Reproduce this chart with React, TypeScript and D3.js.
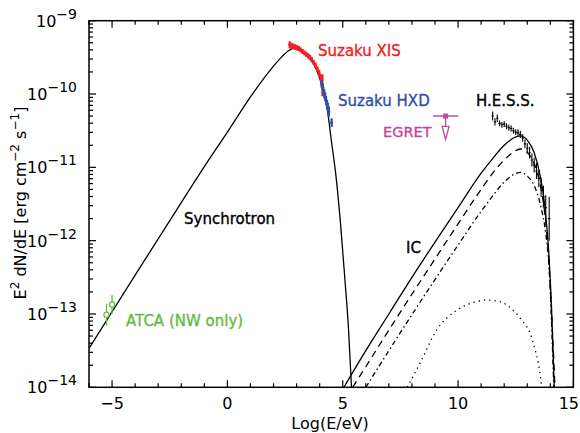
import * as d3 from 'd3';

// x: log10(E/eV), y: log10(E^2 dN/dE  [erg cm^-2 s^-1])
const xTickValues = [-5, 0, 5, 10, 15];
const yDecades = [-14, -13, -12, -11, -10, -9];

const syncX = [-6, -4, -2, -1, 0, 1, 1.5, 2, 2.4, 2.7, 2.9, 3.1, 3.4, 3.7, 4.0, 4.2, 4.35, 4.5, 4.7, 4.9, 5.1, 5.25, 5.38];
const syncY = [-13.47, -12.47, -11.48, -10.99, -10.52, -10.04, -9.82, -9.62, -9.48, -9.4, -9.375, -9.39, -9.46, -9.57, -9.78, -10.0, -10.25, -10.62, -11.1, -11.75, -12.55, -13.2, -14.0];

const icTotalX = [5.05, 6, 7, 8, 9, 10, 11, 11.5, 12.0, 12.4, 12.7, 13.0, 13.3, 13.55, 13.75, 13.92, 14.05, 14.17];
const icTotalY = [-14.0, -13.5, -13.0, -12.5, -12.02, -11.55, -11.08, -10.88, -10.7, -10.6, -10.57, -10.63, -10.8, -11.1, -11.5, -12.1, -12.9, -14.0];

const icDashX = [5.43, 6, 7, 8, 9, 10, 11, 11.5, 12.0, 12.4, 12.7, 13.0, 13.3, 13.55, 13.75, 13.9, 14.05, 14.2];
const icDashY = [-14.0, -13.72, -13.22, -12.73, -12.25, -11.77, -11.3, -11.08, -10.9, -10.79, -10.75, -10.8, -10.95, -11.22, -11.6, -12.1, -12.95, -14.0];

const icDashDotX = [6.0, 7, 8, 9, 10, 11, 11.5, 12.0, 12.4, 12.7, 13.0, 13.3, 13.6, 13.8, 13.95, 14.05, 14.15];
const icDashDotY = [-14.0, -13.5, -13.01, -12.53, -12.06, -11.6, -11.39, -11.2, -11.1, -11.07, -11.12, -11.25, -11.55, -11.9, -12.4, -13.1, -14.0];

const icDotX = [7.8, 8.35, 9.07, 9.94, 10.6, 11.24, 11.8, 12.39, 12.8, 13.12, 13.35, 13.48, 13.63];
const icDotY = [-14.0, -13.67, -13.22, -12.95, -12.85, -12.81, -12.83, -12.95, -13.1, -13.26, -13.5, -13.67, -14.0];

const xisX = [2.7, 2.78, 2.86, 2.94, 3.02, 3.1, 3.18, 3.26, 3.34, 3.42, 3.5, 3.58, 3.66, 3.74, 3.82, 3.9, 3.98, 4.06, 4.12];
const xisY = [-9.33, -9.34, -9.35, -9.36, -9.37, -9.38, -9.4, -9.42, -9.44, -9.46, -9.48, -9.5, -9.53, -9.57, -9.61, -9.66, -9.72, -9.8, -9.88];
const xisErr = [0.05, 0.04, 0.04, 0.04, 0.035, 0.035, 0.035, 0.035, 0.035, 0.035, 0.035, 0.035, 0.035, 0.035, 0.04, 0.04, 0.05, 0.07, 0.15];

const hxdX = [4.08, 4.12, 4.16, 4.2, 4.24, 4.28, 4.32, 4.36, 4.4, 4.52];
const hxdY = [-9.86, -9.9, -9.95, -10.0, -10.04, -10.09, -10.14, -10.19, -10.24, -10.39];
const hxdErr = [0.05, 0.05, 0.05, 0.06, 0.06, 0.06, 0.06, 0.07, 0.07, 0.06];

const hessX = [11.5, 11.6, 11.7, 11.8, 11.9, 12.0, 12.1, 12.2, 12.3, 12.4, 12.5, 12.6, 12.7, 12.8, 12.9, 13.0, 13.1, 13.2, 13.3, 13.4, 13.5, 13.6, 13.7, 13.8, 13.95];
const hessY = [-10.3, -10.38, -10.33, -10.4, -10.42, -10.41, -10.44, -10.46, -10.47, -10.5, -10.52, -10.53, -10.55, -10.6, -10.68, -10.74, -10.8, -10.9, -10.97, -11.05, -11.15, -11.27, -11.4, -11.55, -11.7];
const hessErr = [0.06, 0.05, 0.05, 0.04, 0.04, 0.04, 0.04, 0.04, 0.04, 0.04, 0.04, 0.05, 0.05, 0.05, 0.06, 0.07, 0.08, 0.09, 0.1, 0.11, 0.12, 0.13, 0.15, 0.17, 0.3];

const atcaX = [-5.24, -5.0];
const atcaY = [-13.01, -12.87];
const atcaErr = [0.15, 0.13];

const egretX = 9.46;
const egretY = -10.3;
const egretXErr = [8.92, 10.01];

const font = "'DejaVu Sans', sans-serif";
const red = '#ee2222';
const blue = '#3050a8';
const magenta = '#c0489e';
const green = '#66bb44';

export default function App() {
    const W = 580, H = 433;
    const left = 89, right = 573.4, top = 20.7, bottom = 387.3;

    const x = d3.scaleLinear().domain([-6, 15]).range([left, right]);
    const y = d3.scaleLog().domain([1e-14, 1e-9]).range([bottom, top]);
    const yl = (v: number) => y(Math.pow(10, v));

    const path = (xs: number[], ys: number[]) =>
        d3.line<number>()
            .x(i => x(xs[i]))
            .y(i => yl(ys[i]))
            .curve(d3.curveMonotoneX)(xs.map((_, i) => i)) || '';

    const minorX = d3.range(-6, 16).filter(v => !xTickValues.includes(v));
    const minorY: number[] = [];
    yDecades.slice(0, -1).forEach(d => {
        for (let k = 2; k <= 9; k++) minorY.push(k * Math.pow(10, d));
    });

    const errBars = (xs: number[], ys: number[], es: number[], color: string, hw: number, sw: number) =>
        xs.map((xv, i) => (
            <g key={i} stroke={color} strokeWidth={sw}>
                <line x1={x(xv)} x2={x(xv)} y1={yl(ys[i] + es[i])} y2={yl(ys[i] - es[i])} />
                <line x1={x(xv - hw)} x2={x(xv + hw)} y1={yl(ys[i])} y2={yl(ys[i])} />
            </g>
        ));

    return (
        <svg width={W} height={H} style={{ position: 'absolute', left: 0, top: 0, background: '#fff' }} fontFamily={font}>
            <defs>
                <clipPath id="plotClip">
                    <rect x={left} y={top} width={right - left} height={bottom - top} />
                </clipPath>
            </defs>

            <g clipPath="url(#plotClip)" fill="none">
                <path d={path(syncX, syncY)} stroke="#000" strokeWidth={1.3} />
                <path d={path(icTotalX, icTotalY)} stroke="#000" strokeWidth={1.3} />
                <path d={path(icDashX, icDashY)} stroke="#000" strokeWidth={1.3} strokeDasharray="7,5" />
                <path d={path(icDashDotX, icDashDotY)} stroke="#000" strokeWidth={1.3} strokeDasharray="5,3,1.5,3" />
                <path d={path(icDotX, icDotY)} stroke="#000" strokeWidth={1.3} strokeDasharray="1.3,4" />

                {errBars(xisX, xisY, xisErr, red, 0.06, 2.2)}
                {errBars(hxdX, hxdY, hxdErr, blue, 0.06, 2.2)}
                {errBars(hessX, hessY, hessErr, '#000', 0.05, 1.1)}

                {atcaX.map((xv, i) => (
                    <g key={i} stroke={green} strokeWidth={1.3}>
                        <line x1={x(xv)} x2={x(xv)} y1={yl(atcaY[i] + atcaErr[i])} y2={yl(atcaY[i] - atcaErr[i])} />
                        <circle cx={x(xv)} cy={yl(atcaY[i])} r={2.6} fill="#fff" />
                    </g>
                ))}

                <g stroke={magenta} strokeWidth={1.3}>
                    <line x1={x(egretXErr[0])} x2={x(egretXErr[1])} y1={yl(egretY)} y2={yl(egretY)} />
                    <line x1={x(egretX)} x2={x(egretX)} y1={yl(egretY)} y2={yl(egretY - 0.14)} />
                    <rect x={x(egretX) - 2.5} y={yl(egretY) - 2.5} width={5} height={5} fill={magenta} stroke="none" />
                    <path
                        d={`M${x(egretX) - 3.5},${yl(egretY - 0.14)} L${x(egretX) + 3.5},${yl(egretY - 0.14)} L${x(egretX)},${yl(egretY - 0.32)} Z`}
                        fill="none"
                    />
                </g>
            </g>

            {/* frame */}
            <rect x={left} y={top} width={right - left} height={bottom - top} fill="none" stroke="#000" strokeWidth={1.5} />

            {/* ticks on all four sides */}
            <g stroke="#000" strokeWidth={1.2}>
                {xTickValues.map(v => (
                    <g key={'xt' + v}>
                        <line x1={x(v)} x2={x(v)} y1={bottom} y2={bottom - 7} />
                        <line x1={x(v)} x2={x(v)} y1={top} y2={top + 7} />
                    </g>
                ))}
                {minorX.map(v => (
                    <g key={'xm' + v}>
                        <line x1={x(v)} x2={x(v)} y1={bottom} y2={bottom - 4} />
                        <line x1={x(v)} x2={x(v)} y1={top} y2={top + 4} />
                    </g>
                ))}
                {yDecades.map(d => (
                    <g key={'yt' + d}>
                        <line x1={left} x2={left + 7} y1={yl(d)} y2={yl(d)} />
                        <line x1={right} x2={right - 7} y1={yl(d)} y2={yl(d)} />
                    </g>
                ))}
                {minorY.map((v, i) => (
                    <g key={'ym' + i}>
                        <line x1={left} x2={left + 4} y1={y(v)} y2={y(v)} />
                        <line x1={right} x2={right - 4} y1={y(v)} y2={y(v)} />
                    </g>
                ))}
            </g>

            {/* tick labels */}
            <g fontSize={16} fill="#000">
                {xTickValues.map(v => (
                    <text
                        key={'xl' + v}
                        x={v === 15 ? 579 : x(v)}
                        y={409}
                        textAnchor={v === 15 ? 'end' : 'middle'}
                    >
                        {v < 0 ? '\u2212' + Math.abs(v) : v}
                    </text>
                ))}
                {yDecades.map(d => (
                    <text key={'yl' + d} x={77} y={yl(d) + 6} textAnchor="end">
                        <tspan>10</tspan>
                        <tspan dy={-8} fontSize={14}>{'\u2212' + Math.abs(d)}</tspan>
                    </text>
                ))}
            </g>

            {/* axis titles */}
            <text x={330} y={429} textAnchor="middle" fontSize={16}>Log(E/eV)</text>
            <text transform="translate(26,203) rotate(-90)" textAnchor="middle" fontSize={16}>
                <tspan>E</tspan>
                <tspan dy={-7} fontSize={12}>2</tspan>
                <tspan dy={7}> dN/dE [erg cm</tspan>
                <tspan dy={-7} fontSize={12}>{'\u22122'}</tspan>
                <tspan dy={7}> s</tspan>
                <tspan dy={-7} fontSize={12}>{'\u22121'}</tspan>
                <tspan dy={7}>]</tspan>
            </text>

            {/* annotations */}
            <g fontSize={15} strokeWidth={0.35}>
                <text x={318} y={56} fill={red} stroke={red}>Suzaku XIS</text>
                <text x={338} y={106} fill={blue} stroke={blue}>Suzaku HXD</text>
                <text x={383} y={137} fill={magenta} stroke={magenta} fontSize={14.5}>EGRET</text>
                <text x={476} y={106} fill="#000" stroke="#000">H.E.S.S.</text>
                <text x={184} y={224} fill="#000" stroke="#000">Synchrotron</text>
                <text x={406} y={253} fill="#000" stroke="#000">IC</text>
                <text x={126} y={326} fill={green} stroke={green}>ATCA (NW only)</text>
            </g>
        </svg>
    );
}
